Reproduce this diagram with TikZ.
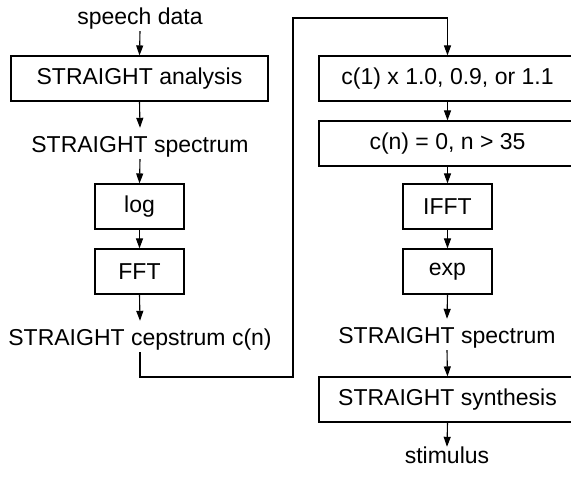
\documentclass[tikz,border=0pt]{standalone}
\usepackage{fontspec}
\setmainfont{Liberation Sans}
\usetikzlibrary{arrows.meta}
\begin{document}
\begin{tikzpicture}[x=1pt,y=1pt,
  txt/.style={font=\fontsize{23}{27}\selectfont},
  box/.style={txt, draw, line width=1.1pt, minimum height=45pt, inner sep=0pt},
  lbl/.style={txt, anchor=base, inner sep=0pt, text height=25pt, text depth=6pt},
  arr/.style={-{Triangle[length=10pt,width=7pt]}, line width=1.1pt},
  ln/.style={line width=1.1pt}]
\useasboundingbox (0,0) rectangle (571,480);
\clip (0,0) rectangle (571,480);
% left column
\node[lbl] (sd) at (140,455) {speech data};
\node[box, minimum width=257pt] (ana) at (139.5,401.5) {STRAIGHT analysis};
\node[lbl] (sp1) at (140,327) {STRAIGHT spectrum};
\node[box, minimum width=89pt] (log) at (139.5,273.5) {log};
\node[box, minimum width=89pt] (fft) at (139.5,208.5) {FFT};
\node[lbl] (cep) at (140,134) {STRAIGHT cepstrum c(n)};
% right column
\node[box, minimum width=257pt] (c1) at (447.5,401.5) {c(1) x 1.0, 0.9, or 1.1};
\node[box, minimum width=257pt] (cn) at (447.5,336.5) {c(n) = 0, n > 35};
\node[box, minimum width=89pt] (ifft) at (447.5,273.5) {IFFT};
\node[box, minimum width=89pt] (exp) at (447.5,208.5) {exp};
\node[lbl] (sp2) at (447,136) {STRAIGHT spectrum};
\node[box, minimum width=257pt] (syn) at (447.5,80.5) {STRAIGHT synthesis};
\node[lbl, text height=16pt] (stim) at (447,17) {stimulus};
% connectors
\draw[arr] (sd.south) -- (ana.north);
\draw[arr] (ana.south) -- (sp1.north);
\draw[arr] (sp1.south) -- (log.north);
\draw[arr] (log.south) -- (fft.north);
\draw[arr] (fft.south) -- (cep.north);
\coordinate (b1) at (140,103);
\coordinate (b2) at (293,103);
\coordinate (b3) at (293,462);
\coordinate (b4) at (447.5,462);
\draw[arr] (cep.south) -- (b1) -- (b2) -- (b3) -- (b4) -- (c1.north);
\draw[arr] (c1.south) -- (cn.north);
\draw[arr] (cn.south) -- (ifft.north);
\draw[arr] (ifft.south) -- (exp.north);
\draw[arr] (exp.south) -- (sp2.north);
\draw[arr] (sp2.south) -- (syn.north);
\draw[arr] (syn.south) -- (stim.north);
\end{tikzpicture}
\end{document}
